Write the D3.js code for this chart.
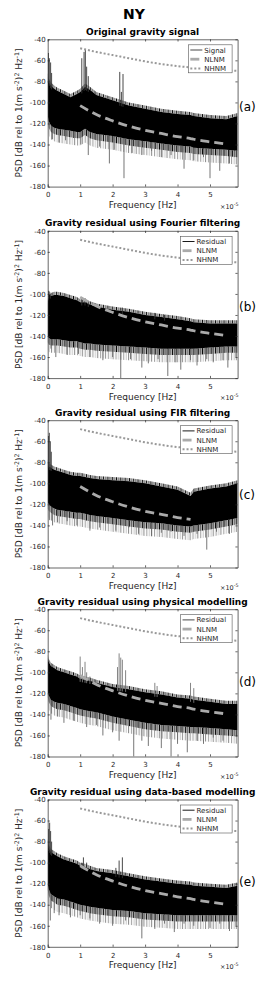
<!DOCTYPE html>
<html><head><meta charset="utf-8">
<script src="https://cdn.jsdelivr.net/npm/d3@7"></script>
<style>body{margin:0;background:#fff} svg{display:block} text{font-family:"DejaVu Sans",sans-serif;fill:#262626}</style>
</head><body><svg id="c" width="268" height="981"></svg>
<script>
// ---------- data (frequency in units of 1e-5 Hz, PSD in dB) ----------
const mainTitle = "NY";
const titles = ["Original gravity signal","Gravity residual using Fourier filtering","Gravity residual using FIR filtering","Gravity residual using physical modelling","Gravity residual using data-based modelling"];
const panelLabels = ["(a)","(b)","(c)","(d)","(e)"];
const seriesNames = ["Signal","Residual","Residual","Residual","Residual"];
const xTicks = [0,1,2,3,4,5];
const yTicks = [-180,-160,-140,-120,-100,-80,-60,-40];
const F = [0,0.03,0.1,0.2,0.3,0.5,0.7,0.9,1.0,1.15,1.3,1.5,2,2.5,3,3.5,4,4.4,4.5,5,5.5,5.85];

const topA = [-75,-80,-84,-87,-89,-92,-95,-92,-90,-85,-88,-93,-98,-103,-106,-109,-111,-112,-113,-115,-116,-113];
const botA = [-112,-118,-122,-124,-125,-126,-127,-128,-128,-125,-128,-130,-132,-135,-137,-139,-141,-142,-143,-144,-145,-146];
const upA = [[0.02,-53],[0.05,-58],[0.09,-62],[0.12,-72],[1.05,-58],[1.12,-52],[1.16,-49],[1.2,-66],[1.25,-75],[2.22,-71],[2.32,-73],[2.27,-90]];
const downA = [[0.15,-135],[0.35,-138],[0.55,-136],[0.8,-133],[1.02,-140],[1.25,-150],[1.6,-142],[1.9,-158],[2.05,-145],[2.35,-172],[2.6,-148],[2.9,-150],[3.2,-146],[3.5,-152],[3.8,-150],[4.2,-163],[4.5,-155],[4.8,-152],[5.0,-172],[5.3,-165],[5.6,-158],[5.75,-152]];

const topB = [-110,-100,-102,-101,-101,-102,-104,-106,-108,-108,-110,-112,-115,-117,-120,-122,-124,-126,-127,-128,-128,-128];
const botB = [-140,-142,-143,-143,-143,-144,-145,-145,-146,-147,-147,-148,-149,-150,-151,-152,-152,-152,-152,-151,-150,-150];
const upB = [[0.03,-97],[0.08,-100],[1.05,-103],[1.15,-104],[1.25,-108],[2.3,-113],[3.3,-118],[3.6,-120]];
const downB = [[0.1,-152],[0.25,-160],[0.6,-158],[0.95,-157],[1.3,-160],[1.7,-163],[2.0,-160],[2.25,-180],[2.55,-162],[2.9,-170],[3.1,-166],[3.4,-162],[3.7,-178],[3.95,-165],[4.1,-172],[4.4,-163],[4.6,-168],[4.9,-162],[5.1,-165],[5.4,-163],[5.55,-170],[5.8,-160]];

const topC = [-80,-84,-85,-87,-88,-90,-92,-93,-93,-94,-95,-96,-97,-98,-100,-103,-106,-112,-108,-105,-103,-100];
const botC = [-118,-120,-122,-124,-125,-126,-127,-128,-128,-129,-130,-131,-133,-135,-137,-138,-140,-141,-140,-138,-135,-133];
const upC = [[0.02,-55],[0.05,-52],[0.08,-60],[0.11,-70]];
const downC = [[0.06,-135],[0.15,-140],[0.3,-137],[0.6,-136],[0.9,-140],[1.3,-145],[1.6,-142],[2.1,-145],[2.5,-142],[2.8,-148],[3.2,-150],[3.5,-147],[3.8,-146],[4.2,-150],[4.6,-148],[4.9,-163],[5.2,-146],[5.6,-148]];

const topD = [-86,-90,-94,-96,-98,-100,-102,-104,-106,-107,-108,-110,-114,-116,-119,-121,-124,-125,-126,-128,-130,-130];
const botD = [-118,-122,-126,-128,-129,-130,-132,-134,-135,-136,-137,-138,-142,-145,-148,-150,-151,-152,-152,-153,-154,-155];
const upD = [[1.0,-85],[1.07,-95],[1.15,-90],[1.2,-100],[1.3,-104],[2.15,-95],[2.2,-82],[2.25,-86],[2.3,-88],[2.4,-98],[3.3,-110],[3.37,-113],[4.4,-110],[4.5,-115]];
const downD = [[0.1,-145],[0.3,-142],[0.5,-148],[0.8,-146],[1.2,-152],[1.5,-150],[1.7,-160],[2.0,-157],[2.2,-165],[2.65,-180],[2.9,-165],[3.1,-170],[3.5,-172],[3.8,-180],[4.0,-168],[4.3,-176],[4.6,-165],[4.8,-168],[5.1,-162],[5.4,-165],[5.7,-160]];

const topE = [-80,-86,-90,-92,-94,-97,-99,-101,-103,-104,-106,-108,-110,-113,-116,-118,-120,-121,-122,-123,-124,-122];
const botE = [-120,-125,-130,-132,-134,-135,-137,-139,-140,-141,-142,-143,-145,-146,-148,-149,-150,-150,-150,-150,-150,-150];
const upE = [[0.03,-68],[0.06,-62],[0.09,-70],[0.12,-80],[1.05,-100],[1.1,-95],[1.2,-100],[2.1,-105],[2.2,-98],[2.3,-95]];
const downE = [[0.08,-155],[0.2,-148],[0.35,-150],[0.7,-152],[1.0,-150],[1.3,-153],[1.6,-158],[2.0,-160],[2.4,-155],[2.9,-172],[3.3,-163],[3.6,-158],[3.9,-166],[4.2,-158],[4.5,-160],[5.0,-162],[5.3,-158],[5.6,-165],[5.8,-160]];

const nlnmF = [1,1.5,2,2.5,3,3.5,4,4.4,4.5,5,5.5];
const nlnmV = [-103,-111.5,-117.5,-122.5,-126.5,-129.5,-132.5,-134.3,-135,-137.5,-139.5];
const nlnmMaxF = [5.5,5.5,4.4,5.5,5.5];
const nhnmF = [1,1.5,2,2.5,3,3.5,4,4.5,5,5.5,5.85];
const nhnmV = [-48.5,-52,-55,-58,-61,-63.5,-65.5,-67,-68.5,-69.5,-70];
const panelLabelDb = [-104.6,-111.9,-111.2,-109,-118.5];

// ---------- layout / style ----------
const plotL = 47.7, plotR = 237.6, plotH = 147.3;
const panelTops = [39.3, 230.8, 420.2, 609.2, 799.5];
const seriesColors = ["#333","#000","#000","#333","#000"];
const fringeLo1 = 6, fringeLo2 = 13, fringeUp = 3;   // dB depth of textured edges

const tops=[topA,topB,topC,topD,topE], bots=[botA,botB,botC,botD,botE];
const ups=[upA,upB,upC,upD,upE], downs=[downA,downB,downC,downD,downE];

const svg = d3.select("#c");
const defs = svg.append("defs");
// hatch patterns for the noisy edges of the spectrum band
const p1 = defs.append("pattern").attr("id","hatchDense").attr("width",4.3).attr("height",6).attr("patternUnits","userSpaceOnUse");
[[0.4,"#000",0.9],[1.7,"#444",0.6],[2.6,"#111",0.7],[3.7,"#666",0.5]].forEach(s=>
  p1.append("line").attr("x1",s[0]).attr("x2",s[0]).attr("y1",0).attr("y2",6).attr("stroke",s[1]).attr("stroke-width",s[2]));
const p2 = defs.append("pattern").attr("id","hatchSparse").attr("width",7.7).attr("height",6).attr("patternUnits","userSpaceOnUse");
[[0.6,"#555",0.6],[3.1,"#888",0.5],[5.4,"#333",0.6]].forEach(s=>
  p2.append("line").attr("x1",s[0]).attr("x2",s[0]).attr("y1",0).attr("y2",6).attr("stroke",s[1]).attr("stroke-width",s[2]));

const x = d3.scaleLinear().domain([0,5.85]).range([plotL,plotR]);

svg.append("text").attr("x",134).attr("y",19).attr("text-anchor","middle")
  .attr("font-size","14px").attr("font-weight","bold").style("fill","#000").text(mainTitle);

const nlnm = nlnmF.map((f,i)=>[f,nlnmV[i]]);
const nhnm = nhnmF.map((f,i)=>[f,nhnmV[i]]);

panelTops.forEach((t,p)=>{
  const b = t+plotH;
  const y = d3.scaleLinear().domain([-180,-40]).range([b,t]);
  const g = svg.append("g");
  const cid = "clip"+p;
  defs.append("clipPath").attr("id",cid).append("rect")
    .attr("x",plotL).attr("y",t).attr("width",plotR-plotL).attr("height",plotH);
  const dg = g.append("g").attr("clip-path",`url(#${cid})`);

  const band = F.map((f,i)=>({f, hi:tops[p][i], lo:bots[p][i]}));
  const topI = d3.scaleLinear().domain(F).range(tops[p]);
  const botI = d3.scaleLinear().domain(F).range(bots[p]);

  // textured fringes
  dg.append("path").datum(band)
    .attr("d",d3.area().x(d=>x(d.f)).y0(d=>y(d.lo-fringeLo2)).y1(d=>y(d.lo)))
    .attr("fill","url(#hatchSparse)");
  dg.append("path").datum(band)
    .attr("d",d3.area().x(d=>x(d.f)).y0(d=>y(d.lo-fringeLo1)).y1(d=>y(d.lo)))
    .attr("fill","url(#hatchDense)");
  dg.append("path").datum(band)
    .attr("d",d3.area().x(d=>x(d.f)).y0(d=>y(d.hi)).y1(d=>y(d.hi+fringeUp)))
    .attr("fill","url(#hatchDense)");

  // downward spikes (grey)
  dg.selectAll(".dn").data(downs[p]).join("line")
    .attr("x1",d=>x(d[0])).attr("x2",d=>x(d[0]))
    .attr("y1",d=>y(botI(d[0])+3)).attr("y2",d=>y(d[1]))
    .attr("stroke","#666").attr("stroke-width",0.9);
  // main band
  dg.append("path").datum(band)
    .attr("d",d3.area().x(d=>x(d.f)).y0(d=>y(d.lo)).y1(d=>y(d.hi)))
    .attr("fill","#000");
  // upward spikes
  dg.selectAll(".up").data(ups[p]).join("line")
    .attr("x1",d=>x(d[0])).attr("x2",d=>x(d[0]))
    .attr("y1",d=>y(topI(d[0])-3)).attr("y2",d=>y(d[1]))
    .attr("stroke",p===3?"#777":"#333").attr("stroke-width",0.9);

  // NLNM / NHNM
  const ln = d3.line().x(d=>x(d[0])).y(d=>y(d[1])).curve(d3.curveMonotoneX);
  dg.append("path").datum(nlnm.filter(d=>d[0]<=nlnmMaxF[p]+1e-9)).attr("d",ln)
    .attr("fill","none").attr("stroke","#aaa").attr("stroke-width",2.8).attr("stroke-dasharray","9,5");
  dg.append("path").datum(nhnm).attr("d",ln)
    .attr("fill","none").attr("stroke","#999").attr("stroke-width",2).attr("stroke-dasharray","2,2");

  // axes
  const fmt = d=>String(d);
  const ax = [
    g.append("g").attr("transform",`translate(0,${b})`).call(d3.axisBottom(x).tickValues(xTicks).tickFormat(fmt).tickSize(-2.2).tickSizeOuter(0).tickPadding(5.8)),
    g.append("g").attr("transform",`translate(0,${t})`).call(d3.axisTop(x).tickValues(xTicks).tickFormat("").tickSize(-2.2).tickSizeOuter(0)),
    g.append("g").attr("transform",`translate(${plotL},0)`).call(d3.axisLeft(y).tickValues(yTicks).tickFormat(fmt).tickSize(-2.2).tickSizeOuter(0).tickPadding(2)),
    g.append("g").attr("transform",`translate(${plotR},0)`).call(d3.axisRight(y).tickValues(yTicks).tickFormat("").tickSize(-2.2).tickSizeOuter(0))
  ];
  ax.forEach(a=>{
    a.select(".domain").attr("stroke","#262626").attr("stroke-width",0.7);
    a.selectAll(".tick line").attr("stroke","#262626").attr("stroke-width",0.7);
    a.selectAll(".tick text").attr("font-size","7px").attr("font-family","DejaVu Sans").style("fill","#262626");
  });

  // titles and labels
  g.append("text").attr("x",(plotL+plotR)/2).attr("y",t-4.6).attr("text-anchor","middle")
    .attr("font-size","9px").attr("font-weight","bold").style("fill","#000").text(titles[p]);
  g.append("text").attr("x",(plotL+plotR)/2).attr("y",b+21.6).attr("text-anchor","middle")
    .attr("font-size","9px").text("Frequency [Hz]");
  const mx = g.append("text").attr("x",220).attr("y",b+22.3).attr("font-size","6.5px");
  mx.append("tspan").text("\u00d710");
  mx.append("tspan").attr("baseline-shift","super").attr("font-size","75%").text("-5");

  const yl = g.append("text").attr("transform",`translate(21.5,${(t+b)/2}) rotate(-90)`)
    .attr("text-anchor","middle").attr("font-size","9px");
  yl.append("tspan").text("PSD [dB rel to 1(m s");
  yl.append("tspan").attr("baseline-shift","super").attr("font-size","70%").text("-2");
  yl.append("tspan").text(")");
  yl.append("tspan").attr("baseline-shift","super").attr("font-size","70%").text("2");
  yl.append("tspan").text(" Hz");
  yl.append("tspan").attr("baseline-shift","super").attr("font-size","70%").text("-1");
  yl.append("tspan").text("]");

  g.append("text").attr("x",239).attr("y",y(panelLabelDb[p])+4.2)
    .attr("font-size","12px").style("fill","#000").text(panelLabels[p]);

  // legend
  const lg = g.append("g");
  const box = lg.append("rect");
  const names = [seriesNames[p],"NLNM","NHNM"];
  const texts = names.map((n,i)=>lg.append("text").attr("font-size","7px").text(n));
  const tw = d3.max(texts,s=>s.node().getComputedTextLength());
  const bw = 16+tw+6, bh = 28, bx = plotR-5.5-bw, by = t+5.5;
  box.attr("x",bx).attr("y",by).attr("width",bw).attr("height",bh)
    .attr("fill","#fff").attr("stroke","#555").attr("stroke-width",0.6);
  const styles = [
    {c:seriesColors[p], w:0.9, da:null},
    {c:"#aaa", w:2.8, da:"9,5"},
    {c:"#999", w:2, da:"2,2"}
  ];
  names.forEach((n,i)=>{
    const ry = by+5.2+i*9.2;
    lg.append("line").attr("x1",bx+2).attr("x2",bx+14).attr("y1",ry).attr("y2",ry)
      .attr("stroke",styles[i].c).attr("stroke-width",styles[i].w)
      .attr("stroke-dasharray",styles[i].da);
    texts[i].attr("x",bx+16).attr("y",ry+2.5);
  });
});
</script></body></html>
